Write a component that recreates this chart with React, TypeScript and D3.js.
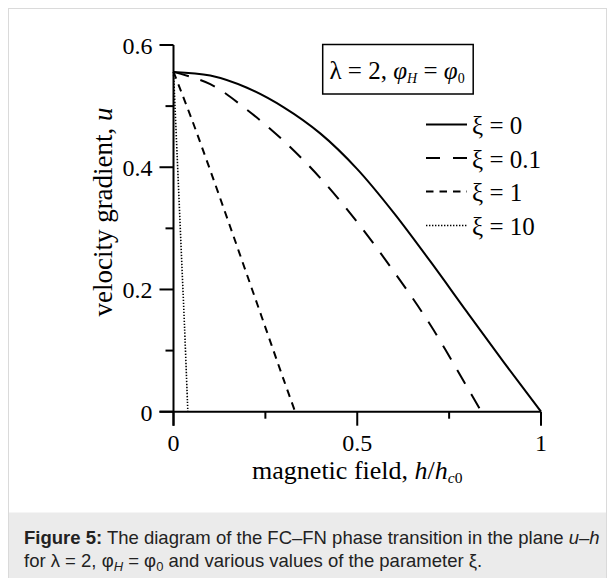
import React from "react";
import * as d3 from "d3";

const hXi0 = [0, 0.1, 0.2, 0.3, 0.4, 0.5, 0.6, 0.7, 0.8, 0.9, 1.0];
const uXi0 = [0.556, 0.55, 0.53, 0.498, 0.455, 0.397, 0.325, 0.245, 0.162, 0.08, 0];

const hXi01 = [0, 0.1, 0.2, 0.3, 0.4, 0.5, 0.6, 0.7, 0.8, 0.838];
const uXi01 = [0.556, 0.536, 0.494, 0.443, 0.382, 0.31, 0.229, 0.141, 0.039, 0];

const hXi1 = [0, 0.05, 0.1, 0.15, 0.2, 0.25, 0.3, 0.331];
const uXi1 = [0.556, 0.478, 0.395, 0.31, 0.224, 0.138, 0.052, 0];

const hXi10 = [0, 0.01, 0.02, 0.03, 0.039];
const uXi10 = [0.556, 0.418, 0.279, 0.139, 0];

const seriesLabels = ["ξ = 0", "ξ = 0.1", "ξ = 1", "ξ = 10"];

const xMajorTicks = [0, 0.5, 1];
const xMajorLabels = ["0", "0.5", "1"];
const xMinorTicks = [0.25, 0.75];
const yMajorTicks = [0, 0.2, 0.4, 0.6];
const yMajorLabels = ["0", "0.2", "0.4", "0.6"];
const yMinorTicks = [0.1, 0.3, 0.5];

const SERIF = "'Liberation Serif', 'Times New Roman', serif";
const SANS = "'Liberation Sans', Arial, sans-serif";

export default function App() {
  const x = d3.scaleLinear().domain([0, 1]).range([173.5, 541]);
  const y = d3.scaleLinear().domain([0, 0.6]).range([411.7, 45]);

  const line = d3
    .line<[number, number]>()
    .x((d) => x(d[0]))
    .y((d) => y(d[1]))
    .curve(d3.curveCatmullRom.alpha(0.5));

  const zip = (hs: number[], us: number[]) => hs.map((h, i) => [h, us[i]] as [number, number]);

  const series = [
    { data: zip(hXi0, uXi0), dash: "none", w: 2 },
    { data: zip(hXi01, uXi01), dash: "16,12", w: 2 },
    { data: zip(hXi1, uXi1), dash: "7.5,6", w: 2 },
    { data: zip(hXi10, uXi10), dash: "1.4,1.6", w: 1.6 },
  ];

  const legendX0 = 426;
  const legendX1 = 467;
  const legendYs = [124.5, 158, 191.5, 225.5];

  return (
    <svg
      width={615}
      height={578}
      style={{ position: "absolute", left: 0, top: 0, background: "#fff" }}
    >
      {/* frame and caption band */}
      <rect x={8} y={512.5} width={599} height={70} fill="#ebebeb" />
      <rect x={8.5} y={8.5} width={598} height={580} fill="none" stroke="#dadada" strokeWidth={1} />

      {/* series */}
      {series.map((s, i) => (
        <path
          key={i}
          d={line(s.data) || ""}
          fill="none"
          stroke="#000"
          strokeWidth={s.w}
          strokeDasharray={s.dash}
        />
      ))}

      {/* axes */}
      <line x1={x(0)} x2={x(0)} y1={y(0.6)} y2={y(0) + 14} stroke="#000" strokeWidth={2} />
      <line x1={x(0) - 14} x2={x(1)} y1={y(0)} y2={y(0)} stroke="#000" strokeWidth={2} />

      {yMajorTicks.map((t, i) => (
        <g key={"ym" + i}>
          <line x1={x(0) - 14} x2={x(0)} y1={y(t)} y2={y(t)} stroke="#000" strokeWidth={2} />
          <text
            x={x(0) - 21}
            y={y(t) + 9}
            textAnchor="end"
            fontFamily={SERIF}
            fontSize={24}
            fill="#000"
          >
            {yMajorLabels[i]}
          </text>
        </g>
      ))}
      {yMinorTicks.map((t, i) => (
        <line key={"yn" + i} x1={x(0) - 8} x2={x(0)} y1={y(t)} y2={y(t)} stroke="#000" strokeWidth={2} />
      ))}
      {xMajorTicks.map((t, i) => (
        <g key={"xm" + i}>
          <line x1={x(t)} x2={x(t)} y1={y(0)} y2={y(0) + 14} stroke="#000" strokeWidth={2} />
          <text
            x={x(t)}
            y={451}
            textAnchor="middle"
            fontFamily={SERIF}
            fontSize={24}
            fill="#000"
          >
            {xMajorLabels[i]}
          </text>
        </g>
      ))}
      {xMinorTicks.map((t, i) => (
        <line key={"xn" + i} x1={x(t)} x2={x(t)} y1={y(0)} y2={y(0) + 7} stroke="#000" strokeWidth={2} />
      ))}

      {/* axis titles */}
      <text x={x(0.5)} y={479} textAnchor="middle" fontFamily={SERIF} fontSize={26} fill="#000">
        magnetic field, <tspan fontStyle="italic">h</tspan>/<tspan fontStyle="italic">h</tspan>
        <tspan fontStyle="italic" fontSize={15.5} dy={4}>c</tspan>
        <tspan fontSize={15.5}>0</tspan>
      </text>
      <text
        transform={`translate(112, 212) rotate(-90)`}
        textAnchor="middle"
        fontFamily={SERIF}
        fontSize={27}
        fill="#000"
      >
        velocity gradient, <tspan fontStyle="italic">u</tspan>
      </text>

      {/* parameter box */}
      <rect x={322.7} y={44.5} width={150.5} height={49.5} fill="#fff" stroke="#000" strokeWidth={1.5} />
      <text x={329.5} y={79} fontFamily={SERIF} fontSize={25} fill="#000">
        λ = 2, <tspan fontStyle="italic">φ</tspan>
        <tspan fontStyle="italic" fontSize={14} dy={4}>H</tspan>
        <tspan dy={-4}> = </tspan>
        <tspan fontStyle="italic">φ</tspan>
        <tspan fontSize={14} dy={4}>0</tspan>
      </text>

      {/* legend */}
      {series.map((s, i) => (
        <g key={"lg" + i}>
          <line
            x1={legendX0}
            x2={legendX1}
            y1={legendYs[i]}
            y2={legendYs[i]}
            stroke="#000"
            strokeWidth={s.w}
            strokeDasharray={i === 1 ? "14,13" : s.dash}
          />
          <text x={472} y={legendYs[i] + 9.5} fontFamily={SERIF} fontSize={25} fill="#000">
            {seriesLabels[i]}
          </text>
        </g>
      ))}

      {/* caption */}
      <text x={24} y={544} fontFamily={SANS} fontSize={18.5} fill="#222">
        <tspan fontWeight="bold">Figure 5:</tspan> The diagram of the FC–FN phase transition in the plane{" "}
        <tspan fontStyle="italic">u</tspan>–<tspan fontStyle="italic">h</tspan>
      </text>
      <text x={24} y={567} fontFamily={SANS} fontSize={18.5} fill="#222">
        for λ = 2, φ<tspan fontStyle="italic" fontSize={13} dy={4}>H</tspan>
        <tspan dy={-4}> = φ</tspan>
        <tspan fontSize={13} dy={4}>0</tspan>
        <tspan dy={-4}> and various values of the parameter ξ.</tspan>
      </text>
    </svg>
  );
}
